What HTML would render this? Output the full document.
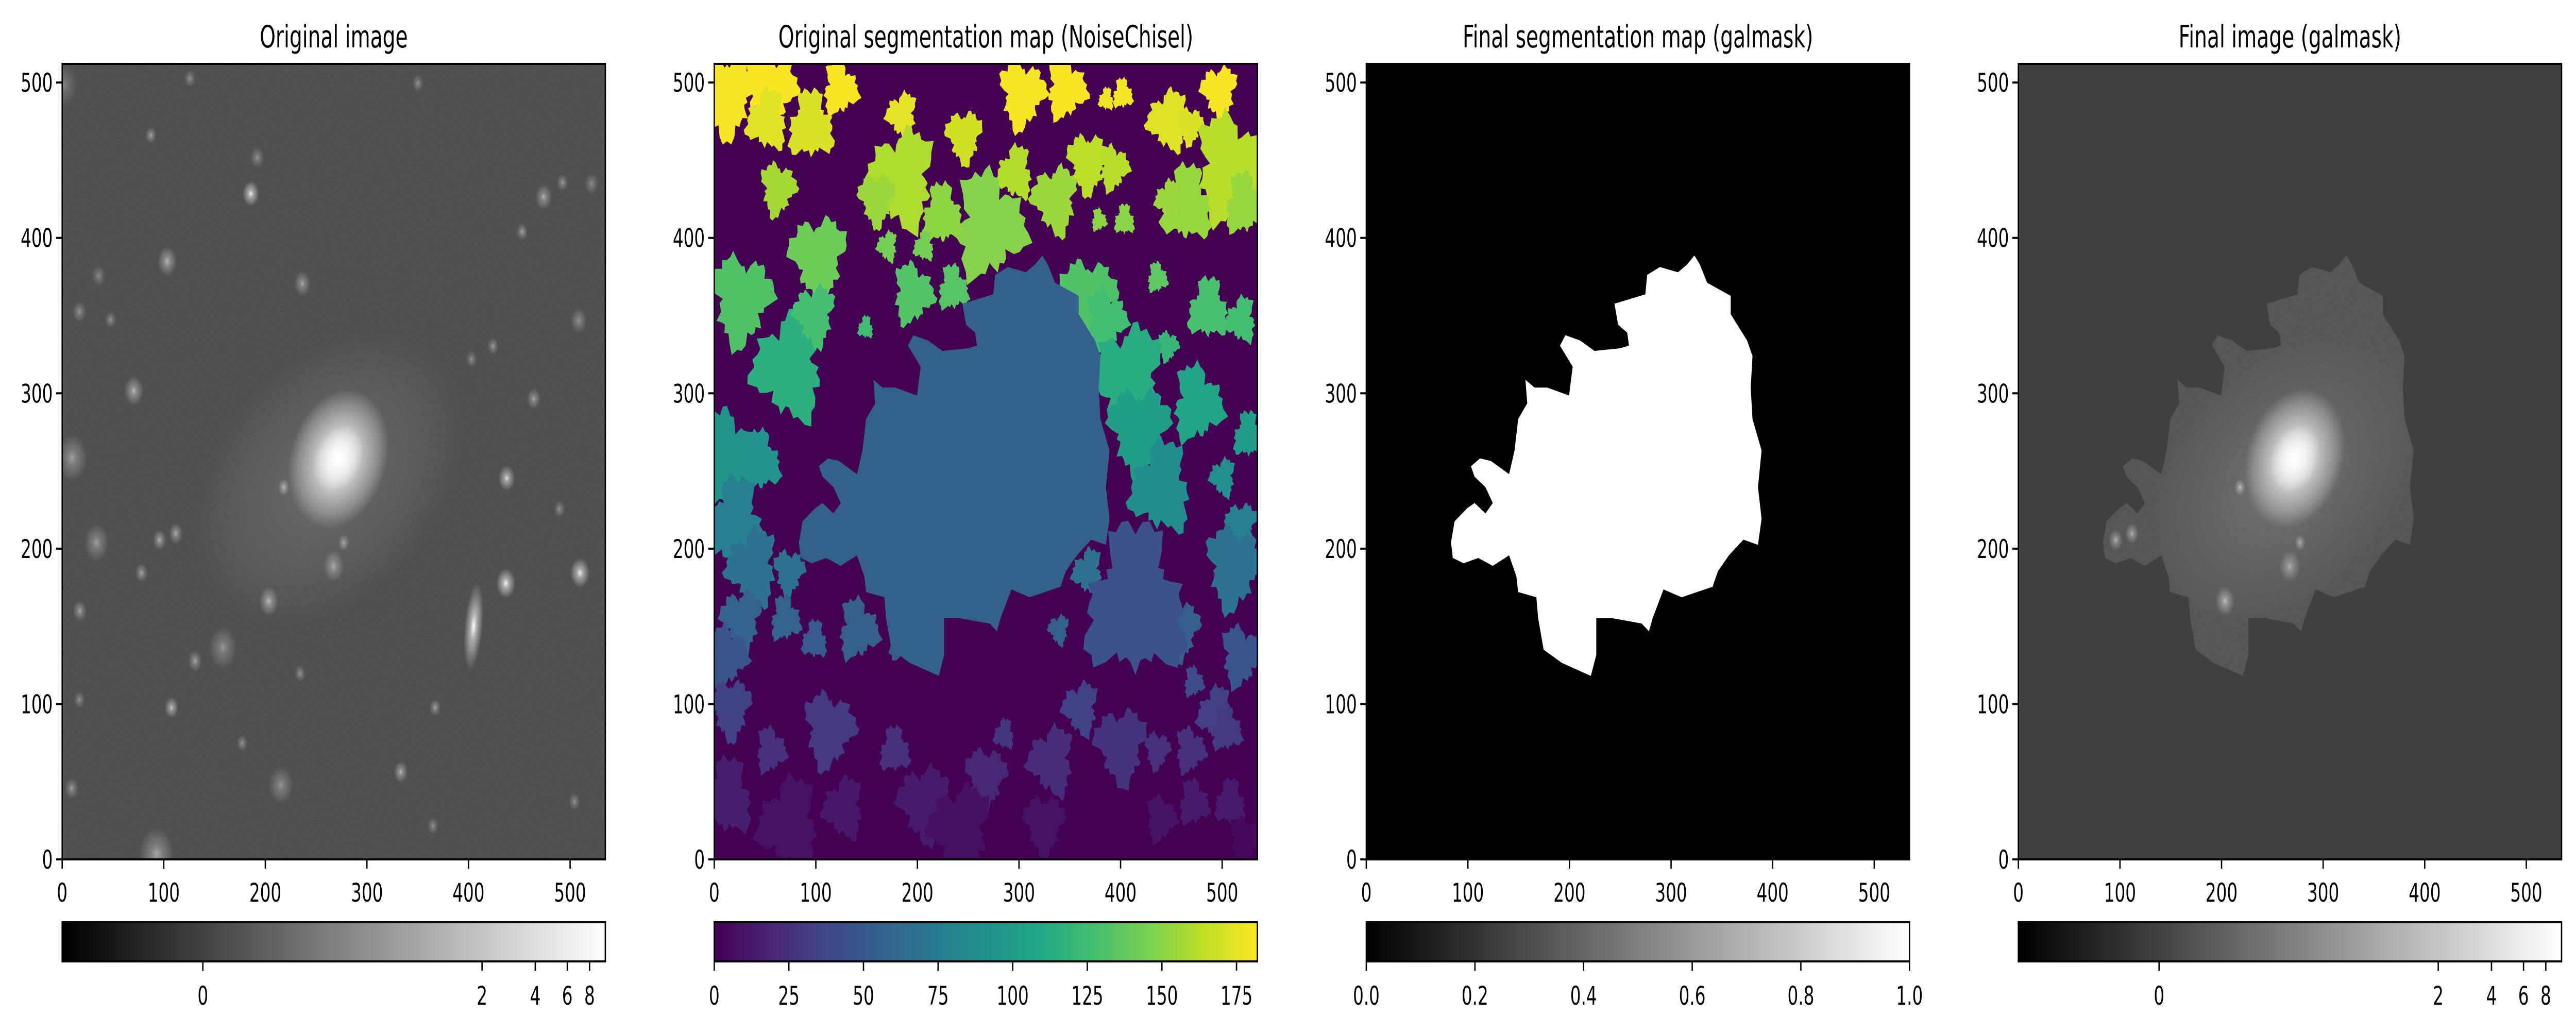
<!DOCTYPE html>
<html><head><meta charset="utf-8"><title>galmask figure</title>
<style>
html,body{margin:0;padding:0;background:#fff;width:100vw;height:100vh;overflow:hidden;}
svg{display:block;width:100vw;height:100vh;}
text{font-family:"DejaVu Sans","Liberation Sans",sans-serif;fill:#000;}
</style></head>
<body>
<svg id="fig" viewBox="0 0 7664 2003" preserveAspectRatio="none" xmlns="http://www.w3.org/2000/svg">
<defs>
<filter id="grain" x="0" y="0" width="1" height="1">
<feTurbulence type="fractalNoise" baseFrequency="0.9" numOctaves="1" seed="3" result="n"/>
<feColorMatrix type="matrix" values="0 0 0 0 0.27  0 0 0 0 0.27  0 0 0 0 0.27  0 0 0 0.5 0"/>
</filter>
<radialGradient id="gStar"><stop offset="0" stop-color="#fff" stop-opacity="1"/><stop offset="0.3" stop-color="#fff" stop-opacity="0.55"/><stop offset="1" stop-color="#fff" stop-opacity="0"/></radialGradient>
<radialGradient id="gHalo"><stop offset="0" stop-color="#fff" stop-opacity="0.16"/><stop offset="0.6" stop-color="#fff" stop-opacity="0.07"/><stop offset="1" stop-color="#fff" stop-opacity="0"/></radialGradient>
<radialGradient id="gBody"><stop offset="0" stop-color="#fff" stop-opacity="0.95"/><stop offset="0.5" stop-color="#fff" stop-opacity="0.55"/><stop offset="0.8" stop-color="#fff" stop-opacity="0.25"/><stop offset="1" stop-color="#fff" stop-opacity="0"/></radialGradient>
<linearGradient id="cbGray" x1="0" x2="1" y1="0" y2="0"><stop offset="0" stop-color="#000"/><stop offset="1" stop-color="#fff"/></linearGradient>
<linearGradient id="cbVir" x1="0" x2="1" y1="0" y2="0">
<stop offset="0" stop-color="#440154"/><stop offset="0.1" stop-color="#482475"/><stop offset="0.2" stop-color="#414487"/><stop offset="0.3" stop-color="#355f8d"/><stop offset="0.4" stop-color="#2a788e"/><stop offset="0.5" stop-color="#21918c"/><stop offset="0.6" stop-color="#22a884"/><stop offset="0.7" stop-color="#44bf70"/><stop offset="0.8" stop-color="#7ad151"/><stop offset="0.9" stop-color="#bddf26"/><stop offset="1" stop-color="#fde725"/></linearGradient>
</defs>
</svg>
<script>
// ---- data ----
const panelTitles = ["Original image","Original segmentation map (NoiseChisel)","Final segmentation map (galmask)","Final image (galmask)"];
const xTicks = [0,100,200,300,400,500];
const yTicks = [0,100,200,300,400,500];
const xMax = 534.7, yMax = 512;
const grayCbTickVals = ["0","2","4","6","8"];
const grayCbTickFrac = [0.259,0.773,0.871,0.930,0.971];
const virCbTicks = [0,25,50,75,100,125,150,175];
const virCbMax = 182;
const maskCbTicks = [0.0,0.2,0.4,0.6,0.8,1.0];
// star sources (zoom-px of panel 1: x, y, radius, brightness)
const starPx = [[585,295,12,.9],[312,595,14,.6],[390,398,14,.6],[168,697,22,.45],[1182,728,12,.8],[1180,888,14,.95],[1353,872,14,.9],[627,915,14,.6],[400,1077,10,.7],[365,1300,25,.5],[225,826,18,.45],[372,822,10,.55],[410,812,10,.55],[330,872,9,.5],[186,930,10,.5],[935,1175,10,.6],[655,1195,18,.4],[1268,300,12,.55],[1245,607,10,.5],[1218,353,8,.5],[352,206,8,.5],[443,120,8,.4],[705,432,12,.5],[520,986,20,.4],[455,1006,10,.5],[1015,1077,8,.5],[1150,527,8,.45],[1100,547,8,.4],[662,742,8,.6],[802,826,8,.5],[778,862,15,.5],[1350,488,12,.4],[185,475,10,.4],[258,487,8,.4],[700,1025,8,.4],[565,1131,8,.4],[167,1200,10,.45],[185,1065,8,.4],[1305,775,8,.4],[1340,1220,8,.4],[1312,278,8,.45],[975,127,8,.4],[1010,1257,8,.4],[148,130,20,.3],[1380,280,10,.35],[600,240,10,.4],[230,420,10,.35]];
// galaxy-mask outline (zoom-px of panel 3)
const maskPx = [[925,388],[940,405],[960,440],[1025,465],[1025,500],[1070,550],[1085,580],[1080,640],[1085,700],[1110,760],[1100,830],[1110,890],[1100,940],[1060,930],[1020,960],[990,990],[975,1020],[890,1040],[840,1025],[810,1080],[800,1105],[780,1090],[700,1080],[655,1080],[655,1150],[640,1190],[560,1165],[510,1140],[495,1080],[490,1040],[440,1030],[435,1000],[415,960],[370,980],[330,965],[290,975],[260,965],[255,935],[265,895],[300,870],[320,860],[350,880],[370,860],[350,830],[320,810],[310,790],[335,775],[365,780],[415,805],[430,760],[440,700],[465,670],[460,625],[485,640],[520,640],[580,655],[590,600],[555,560],[570,540],[610,550],[650,570],[720,565],[745,560],[740,535],[715,520],[705,480],[790,462],[795,425],[830,410],[880,420],[905,405]];
// segmentation blobs (zoom-px of panel 2: x, y, radius)
const blobPx = [[60,80,55],[180,70,50],[370,70,35],[290,140,45],[170,130,40],[540,120,30],[710,160,35],[870,80,45],[990,70,40],[1145,80,20],[1100,90,15],[1270,130,40],[1410,75,35],[1330,140,25],[1440,220,70],[1480,290,40],[1320,290,50],[1270,280,25],[960,280,45],[1050,210,40],[1120,220,30],[1080,320,15],[1150,320,20],[850,230,35],[540,240,65],[470,280,35],[200,260,35],[780,330,70],[650,310,40],[600,370,20],[500,370,20],[310,390,55],[100,470,60],[570,460,40],[680,450,30],[440,525,15],[230,600,70],[300,500,40],[1050,470,55],[1100,510,40],[1240,430,20],[1380,490,40],[1470,510,30],[1160,620,70],[1190,720,60],[1270,560,20],[1350,670,50],[1490,730,30],[1250,830,60],[1420,810,25],[1470,900,30],[1450,980,55],[60,770,60],[150,780,40],[80,900,60],[130,980,50],[100,1080,40],[230,990,30],[60,1150,40],[220,1080,30],[300,1120,25],[1050,990,30],[970,1100,20],[1300,1100,40],[1470,1150,40],[1340,1200,20],[1180,1050,100],[1400,1260,35],[1030,1250,35],[70,1250,40],[340,1290,50],[180,1330,30],[520,1330,30],[820,1300,20],[950,1350,45],[1140,1320,50],[1240,1330,25],[1330,1330,30],[1430,1290,30],[60,1420,50],[380,1440,40],[600,1430,50],[770,1380,40],[1250,1460,30],[1340,1430,30],[1440,1430,30],[230,1470,60],[700,1480,60],[930,1470,40],[1480,1500,30],[420,1100,40],[560,1110,40]];

// ---- layout ----
const NS="http://www.w3.org/2000/svg";
const svg=document.getElementById('fig');
const panelLeft=[185,2125,4065,6005];
const axTop=124, axW=1616, axH=1544, cbTop=1790, cbH=76;
function el(tag,attrs,parent){const e=document.createElementNS(NS,tag);for(const k in attrs)e.setAttribute(k,attrs[k]);(parent||svg).appendChild(e);return e;}
function X(p,v){return panelLeft[p]+v/xMax*axW;}
function Y(v){return axTop+axH-v/yMax*axH;}
const vir=["#440154","#482475","#414487","#355f8d","#2a788e","#21918c","#22a884","#44bf70","#7ad151","#bddf26","#fde725"];
function hex(c){return [1,3,5].map(i=>parseInt(c.substr(i,2),16));}
function viridis(t){t=Math.max(0,Math.min(1,t));const f=t*10,i=Math.min(9,Math.floor(f)),r=f-i;const a=hex(vir[i]),b=hex(vir[i+1]);return 'rgb('+a.map((v,k)=>Math.round(v+(b[k]-v)*r)).join(',')+')';}
function star2d(s){return [(s[0]-145)/2.37,(1308-s[1])/2.364,s[2]/2.37,s[3]];}
function mask2d(m){return [(m[0]-22)/2.796,(1540-m[1])/2.964];}
function blob2d(b){return [(b[0]-25)/2.786,(1538-b[1])/2.96,b[2]/2.87];}
function maskPath(p){return maskPx.map((m,i)=>{const d=mask2d(m);return (i?'L':'M')+X(p,d[0]).toFixed(1)+','+Y(d[1]).toFixed(1);}).join('')+'Z';}

function drawGalaxy(g,p){
  const cx=X(p,262),cy=Y(245);
  el('ellipse',{cx:cx,cy:cy,rx:140/xMax*axW,ry:85/yMax*axH,fill:'url(#gHalo)',transform:`rotate(-22 ${cx} ${cy})`},g);
  const bx=X(p,272),by=Y(258);
  el('ellipse',{cx:bx,cy:by,rx:52/xMax*axW,ry:42/yMax*axH,fill:'url(#gBody)',transform:`rotate(-30 ${bx} ${by})`},g);
  el('ellipse',{cx:bx,cy:by,rx:26/xMax*axW,ry:20/yMax*axH,fill:'url(#gBody)',transform:`rotate(-30 ${bx} ${by})`},g);
}

for(let p=0;p<4;p++){
  const L=panelLeft[p];
  const pg=el('g',{});
  
  
  const t=el('text',{x:L+axW/2,y:92,'font-size':60,'text-anchor':'middle'},pg);
  t.textContent=panelTitles[p];
  
  
  const cp=el('clipPath',{id:'clip'+p},svg.querySelector('defs'));
  el('rect',{x:L,y:axTop,width:axW,height:axH},cp);
  const img=el('g',{'clip-path':`url(#clip${p})`},pg);
  
  
  if(p===0){
    el('rect',{x:L,y:axTop,width:axW,height:axH,fill:'#3c3c3c'},img);
    el('rect',{x:L,y:axTop,width:axW,height:axH,filter:'url(#grain)'},img);
    drawGalaxy(img,p);
    starPx.forEach(s=>{const d=star2d(s);const c=el('circle',{cx:X(p,d[0]),cy:Y(d[1]),r:d[2]/xMax*axW*1.6,fill:'url(#gStar)',opacity:d[3]},img);
      });
    const ex=X(p,405),ey=Y(150);
    el('ellipse',{cx:ex,cy:ey,rx:9/xMax*axW,ry:28/yMax*axH,fill:'url(#gStar)',transform:`rotate(8 ${ex} ${ey})`},img);
  } else if(p===1){
    el('rect',{x:L,y:axTop,width:axW,height:axH,fill:'#440154'},img);
    blobPx.forEach((b,bi)=>{const d=blob2d(b);const tt=(1538-b[1])/1480;
      let pts=[];const N=48;
      for(let k=0;k<N;k++){const a=k/N*2*Math.PI;const rr=1.3*d[2]*(1+0.2*Math.sin(3*a+bi)+0.12*Math.sin(7*a+2*bi)+0.1*Math.sin(17*a+bi*3));
        pts.push(X(p,d[0]+rr*Math.cos(a)).toFixed(1)+','+Y(d[1]+rr*Math.sin(a)).toFixed(1));}
      const pl=el('polygon',{points:pts.join(' '),fill:viridis(bi===66?0.25:tt)},img);
      });
    const big=el('path',{d:maskPath(p),fill:'#34608d'},img);
    
  } else if(p===2){
    el('rect',{x:L,y:axTop,width:axW,height:axH,fill:'#000'},img);
    const m=el('path',{d:maskPath(p),fill:'#fff'},img);
    
  } else {
    el('rect',{x:L,y:axTop,width:axW,height:axH,fill:'#404040'},img);
    const cp2=el('clipPath',{id:'mclip'},svg.querySelector('defs'));el('path',{d:maskPath(p)},cp2);
    const gg=el('g',{'clip-path':'url(#mclip)'},img);
    el('path',{d:maskPath(p),fill:'#444'},gg);
    el('rect',{x:L,y:axTop,width:axW,height:axH,filter:'url(#grain)'},gg);
    drawGalaxy(gg,p);
    starPx.forEach(s=>{const d=star2d(s);if(d[0]>480)return;el('circle',{cx:X(p,d[0]),cy:Y(d[1]),r:d[2]/xMax*axW*1.6,fill:'url(#gStar)',opacity:d[3]},gg);});
  }
  const fr=el('rect',{x:L,y:axTop,width:axW,height:axH,fill:'none',stroke:'#000','stroke-width':4},pg);
  
  xTicks.forEach(v=>{const x=X(p,v);el('line',{x1:x,x2:x,y1:axTop+axH,y2:axTop+axH+18,stroke:'#000','stroke-width':4},pg);
    const tx=el('text',{x:x,y:1750,'font-size':50,'text-anchor':'middle'},pg);tx.textContent=v;
    });
  yTicks.forEach(v=>{const y=Y(v);el('line',{x1:L-18,x2:L,y1:y,y2:y,stroke:'#000','stroke-width':4},pg);
    const ty=el('text',{x:L-28,y:y+18,'font-size':50,'text-anchor':'end'},pg);ty.textContent=v;
    });
  const cb=el('g',{},pg);
  
  el('rect',{x:L,y:cbTop,width:axW,height:cbH,fill:p===1?'url(#cbVir)':'url(#cbGray)',stroke:'#000','stroke-width':4},cb);
  let ticks=[];
  if(p===0||p===3) ticks=grayCbTickVals.map((s,i)=>[grayCbTickFrac[i],s]);
  else if(p===1) ticks=virCbTicks.map(v=>[v/virCbMax,String(v)]);
  else ticks=maskCbTicks.map(v=>[v,v.toFixed(1)]);
  ticks.forEach(tk=>{const x=L+tk[0]*axW;el('line',{x1:x,x2:x,y1:cbTop+cbH,y2:cbTop+cbH+18,stroke:'#000','stroke-width':4},cb);
    const tl=el('text',{x:x,y:1950,'font-size':50,'text-anchor':'middle'},cb);tl.textContent=tk[1];
    });
}
</script>
</body></html>
